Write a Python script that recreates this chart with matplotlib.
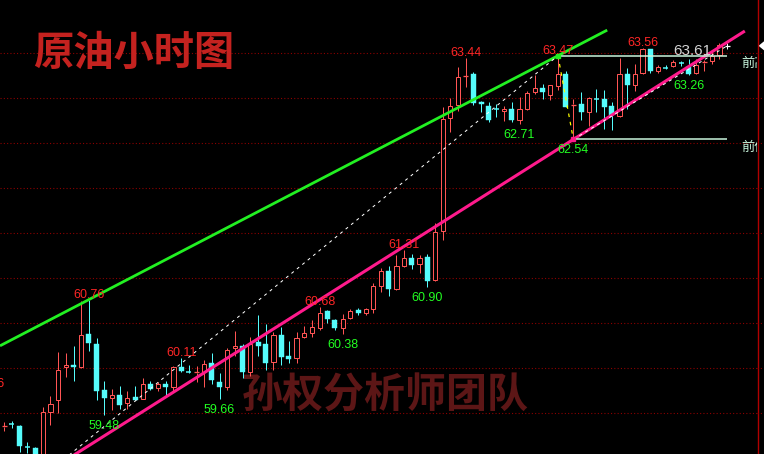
import matplotlib
matplotlib.use("Agg")
import matplotlib.pyplot as plt
from matplotlib.patches import Rectangle, Polygon

# Hourly crude oil candles (open / high / low / close)
opens = [59.35, 59.38, 59.36, 59.13, 59.11, 58.95, 59.51, 59.64, 60.01, 60.03,
         60.01, 60.38, 60.27, 59.76, 59.67, 59.70, 59.61, 59.68, 59.66, 59.82,
         59.78, 59.82, 59.79, 60.01, 59.97, 59.95, 59.96, 60.05, 59.84, 59.79,
         60.22, 60.24, 59.96, 60.29, 60.27, 60.07, 60.37, 60.13, 60.11, 60.34,
         60.39, 60.45, 60.63, 60.53, 60.45, 60.56, 60.64, 60.61, 60.66, 60.91,
         61.08, 60.88, 61.13, 61.22, 61.16, 61.23, 60.98, 61.52, 62.78, 62.92,
         63.24, 63.27, 62.95, 62.91, 62.88, 62.86, 62.88, 62.76, 62.88, 63.07,
         63.11, 63.03, 63.13, 63.27, 62.92, 62.93, 62.85, 62.99, 62.99, 62.91,
         62.80, 63.27, 63.14, 63.28, 63.54, 63.30, 63.34, 63.36, 63.39, 63.34,
         63.28, 63.39, 63.41, 63.48, 63.58]
highs = [59.40, 59.41, 59.37, 59.18, 59.12, 59.57, 59.69, 60.18, 60.17, 60.25,
         60.74, 60.76, 60.33, 59.86, 59.77, 59.80, 59.74, 59.80, 59.89, 59.86,
         59.84, 59.86, 60.02, 60.11, 60.03, 60.02, 60.09, 60.17, 59.94, 60.22,
         60.41, 60.27, 60.34, 60.59, 60.49, 60.40, 60.46, 60.30, 60.40, 60.47,
         60.53, 60.68, 60.64, 60.55, 60.60, 60.66, 60.67, 60.67, 60.94, 61.11,
         61.13, 61.26, 61.31, 61.27, 61.26, 61.27, 61.61, 62.90, 63.00, 63.34,
         63.44, 63.29, 62.97, 62.96, 62.93, 62.91, 62.96, 63.01, 63.08, 63.26,
         63.16, 63.14, 63.47, 63.30, 62.99, 63.07, 63.01, 63.10, 63.09, 62.96,
         63.45, 63.33, 63.38, 63.56, 63.55, 63.37, 63.37, 63.42, 63.41, 63.43,
         63.43, 63.42, 63.51, 63.61, 63.61]
lows = [59.30, 59.33, 59.07, 59.06, 58.90, 58.90, 59.37, 59.50, 59.90, 59.86,
        60.00, 60.19, 59.64, 59.48, 59.53, 59.54, 59.55, 59.64, 59.66, 59.76,
        59.74, 59.68, 59.75, 59.96, 59.95, 59.85, 59.79, 59.82, 59.66, 59.76,
        60.13, 59.89, 59.91, 60.13, 59.98, 59.98, 60.03, 60.06, 60.06, 60.33,
        60.34, 60.42, 60.50, 60.42, 60.38, 60.55, 60.59, 60.59, 60.61, 60.85,
        60.80, 60.87, 61.12, 61.10, 61.06, 60.90, 60.97, 61.42, 62.62, 62.86,
        63.12, 62.92, 62.84, 62.73, 62.79, 62.74, 62.73, 62.71, 62.87, 63.05,
        62.99, 62.98, 63.09, 62.90, 62.54, 62.76, 62.69, 62.85, 62.66, 62.64,
        62.79, 62.88, 63.08, 63.27, 63.28, 63.28, 63.32, 63.34, 63.36, 63.26,
        63.27, 63.30, 63.38, 63.43, 63.55]
closes = [59.36, 59.37, 59.13, 59.12, 58.95, 59.51, 59.60, 59.98, 60.03, 60.01,
          60.37, 60.28, 59.75, 59.67, 59.70, 59.59, 59.67, 59.65, 59.82, 59.77,
          59.82, 59.79, 60.01, 59.97, 59.95, 59.96, 60.05, 59.87, 59.79, 60.20,
          60.24, 59.96, 60.27, 60.24, 60.06, 60.37, 60.12, 60.10, 60.33, 60.39,
          60.45, 60.61, 60.55, 60.45, 60.55, 60.63, 60.61, 60.66, 60.91, 61.08,
          60.88, 61.13, 61.22, 61.14, 61.22, 60.97, 61.51, 62.77, 62.91, 63.23,
          63.25, 62.95, 62.93, 62.76, 62.87, 62.88, 62.76, 62.88, 63.06, 63.11,
          63.07, 63.14, 63.27, 62.90, 62.93, 62.84, 63.00, 62.98, 62.90, 62.81,
          63.27, 63.14, 63.27, 63.54, 63.30, 63.34, 63.33, 63.40, 63.38, 63.27,
          63.37, 63.40, 63.47, 63.59, 63.58]

# Candles whose swing high / swing low gets a price tag
high_tag_idx = [11, 23, 41, 52, 60, 72, 83]
low_tag_idx = [13, 28, 44, 55, 67, 74, 89]
last_tag_idx = 93
edge_tag_text = "59.76"

# Trend lines: resistance through two swing highs, support from the swing low
resist_idx = (11, 72)
support_idx = 74
support_slope = 0.054
wave_slope = 0.0698

grid_levels = [59.5, 60.0, 60.5, 61.0, 61.5, 62.0, 62.5, 63.0, 63.5]

title_text = "原油小时图"
mark_text = "孙权分析师团队"
prev_high_text = "前高"
prev_low_text = "前低"

# ---- styling ----
RED = "#ff5454"
CYAN = "#55fcfc"
TAG_RED = "#ff2626"
TAG_GREEN = "#22ff22"
GRID = "#8c0000"
MINT = "#c8f5dc"
PX = 0.72  # one pixel in points at dpi 100

W, H = 764, 454
STEP = 7.69      # pixels per candle
X0 = 4.3         # pixel x of the first candle
PLOT_W = 757

fig = plt.figure(figsize=(W / 100, H / 100), dpi=100, facecolor="black")
ax = fig.add_axes([0, 0, PLOT_W / W, 1])
ax.set_facecolor("black")
left = -X0 / STEP
ax.set_xlim(left, left + PLOT_W / STEP)
ybot = 60 - 86 / 90
ax.set_ylim(ybot, ybot + H / 90)
ax.axis("off")

for lv in grid_levels:
    ax.axhline(lv, color=GRID, lw=PX * 1.1, ls=(0, (1, 2)), zorder=1)

# watermark and title
ax.text(0.504, 0.13, mark_text, transform=fig.transFigure, ha="center", va="center",
        fontsize=29.5, fontweight="bold", color="#5c1616",
        family=["Noto Sans CJK SC", "DejaVu Sans"], zorder=2)
ax.text(134 / W, 1 - 53 / H, title_text, transform=fig.transFigure, ha="center",
        va="center", fontsize=29, fontweight="bold", color="#c4221f",
        family=["Noto Sans CJK SC", "DejaVu Sans"], zorder=6)

# candles
BODY_FULL = 0.65
BODY_HOLLOW = 0.54
for i, (o, h, l, c) in enumerate(zip(opens, highs, lows, closes)):
    top, bot = max(o, c), min(o, c)
    if c > o:
        ax.vlines(i, top, h, color=RED, lw=PX, zorder=3)
        ax.vlines(i, l, bot, color=RED, lw=PX, zorder=3)
        if top - bot < 0.02:
            ax.hlines((top + bot) / 2, i - BODY_FULL / 2, i + BODY_FULL / 2,
                      color=RED, lw=PX * 1.3, zorder=3)
        else:
            ax.add_patch(Rectangle((i - BODY_HOLLOW / 2, bot), BODY_HOLLOW, top - bot,
                                   facecolor="black", edgecolor=RED, lw=PX, zorder=3))
    elif c < o:
        ax.vlines(i, l, h, color=CYAN, lw=PX, zorder=3)
        if top - bot < 0.02:
            ax.hlines((top + bot) / 2, i - BODY_FULL / 2, i + BODY_FULL / 2,
                      color=CYAN, lw=PX * 1.5, zorder=3)
        else:
            ax.add_patch(Rectangle((i - BODY_FULL / 2, bot), BODY_FULL, top - bot,
                                   facecolor=CYAN, edgecolor=CYAN, lw=0.3, zorder=3))
    else:
        ax.vlines(i, l, h, color="white", lw=PX, zorder=3)
        ax.hlines(c, i - BODY_FULL / 2, i + BODY_FULL / 2, color="white", lw=PX * 1.3, zorder=3)

# resistance line (green)
r0, r1 = resist_idx
r_slope = (highs[r1] - highs[r0]) / (r1 - r0)
gx = [left, 78.4]
ax.plot(gx, [highs[r0] + r_slope * (x - r0) for x in gx], color="#22f022",
        lw=2.0, zorder=4, solid_capstyle="butt")

# support line (pink)
sx = [9.0, 96.3]
ax.plot(sx, [lows[support_idx] + support_slope * (x - support_idx) for x in sx],
        color="#ff1a8c", lw=2.2, zorder=4, solid_capstyle="butt")

# dashed wave lines
peak = r1
wx = [8.0, peak]
ax.plot(wx, [highs[peak] - wave_slope * (peak - x) for x in wx], color="white",
        lw=PX, ls=(0, (3, 4)), zorder=4)
ax.plot([peak, support_idx], [highs[peak], lows[support_idx]], color="#ffff00",
        lw=PX * 1.2, ls=(0, (3, 4)), zorder=4)
end = len(closes) - 1
ax.plot([support_idx, end], [lows[support_idx], closes[end]], color="white",
        lw=PX, ls=(0, (3, 4)), zorder=4)

# previous high / low reference lines
ax.hlines(highs[peak], peak, end, color=MINT, lw=1.1, zorder=4)
ax.hlines(lows[support_idx], support_idx, end, color=MINT, lw=1.1, zorder=4)
ax.plot([peak], [highs[peak]], marker="s", ms=3.2, color="#22f022", zorder=5)
ax.plot([support_idx], [lows[support_idx]], marker="s", ms=3.5, color="#ff1a8c", zorder=5)
lbl_x = (741 - X0) / STEP
cjk = ["Noto Sans CJK SC", "DejaVu Sans"]
ax.annotate(prev_high_text, (lbl_x, highs[peak]), xytext=(0, -1 * PX),
            textcoords="offset points", ha="left", va="top", fontsize=9.5,
            color=MINT, family=cjk, clip_on=True, annotation_clip=False, zorder=6)
ax.annotate(prev_low_text, (lbl_x, lows[support_idx]), xytext=(0, -1 * PX),
            textcoords="offset points", ha="left", va="top", fontsize=9.5,
            color=MINT, family=cjk, clip_on=True, annotation_clip=False, zorder=6)

# swing tags
num_font = ["Liberation Sans", "DejaVu Sans"]
for i in high_tag_idx:
    ax.annotate(f"{highs[i]:.2f}", (i, highs[i]), xytext=(0, 2 * PX),
                textcoords="offset points", ha="center", va="baseline",
                fontsize=9, color=TAG_RED, family=num_font, zorder=6)
for i in low_tag_idx:
    ax.annotate(f"{lows[i]:.2f}", (i, lows[i]), xytext=(0, -14 * PX),
                textcoords="offset points", ha="center", va="baseline",
                fontsize=9, color=TAG_GREEN, family=num_font, zorder=6)
ax.annotate(f"{highs[last_tag_idx]:.2f}", (last_tag_idx, highs[last_tag_idx]),
            xytext=(-8.5 * PX, -12 * PX), textcoords="offset points",
            ha="right", va="baseline", fontsize=11, color="#d4d4d4",
            family=num_font, zorder=6)
ax.text(5 / W, 1 - 387 / H, edge_tag_text, transform=fig.transFigure, ha="right",
        va="baseline", fontsize=9, color=TAG_RED, family=num_font, zorder=6)

# right price strip
rax = fig.add_axes([PLOT_W / W, 0, (W - PLOT_W) / W, 1])
rax.set_facecolor("black")
rax.set_xlim(0, W - PLOT_W)
rax.set_ylim(ax.get_ylim())
rax.axis("off")
rax.axvline(0.5, color="#b00000", lw=1.0)
for lv in grid_levels:
    rax.axhline(lv, color=GRID, lw=PX * 1.1, ls=(0, (1, 2)))
cp = closes[end]
rax.add_patch(Polygon([[1.5, cp], [7, cp + 0.05], [7, cp - 0.05]], closed=True,
                      facecolor="white", edgecolor="none"))

fig.savefig("out.png", dpi=100, facecolor="black")
